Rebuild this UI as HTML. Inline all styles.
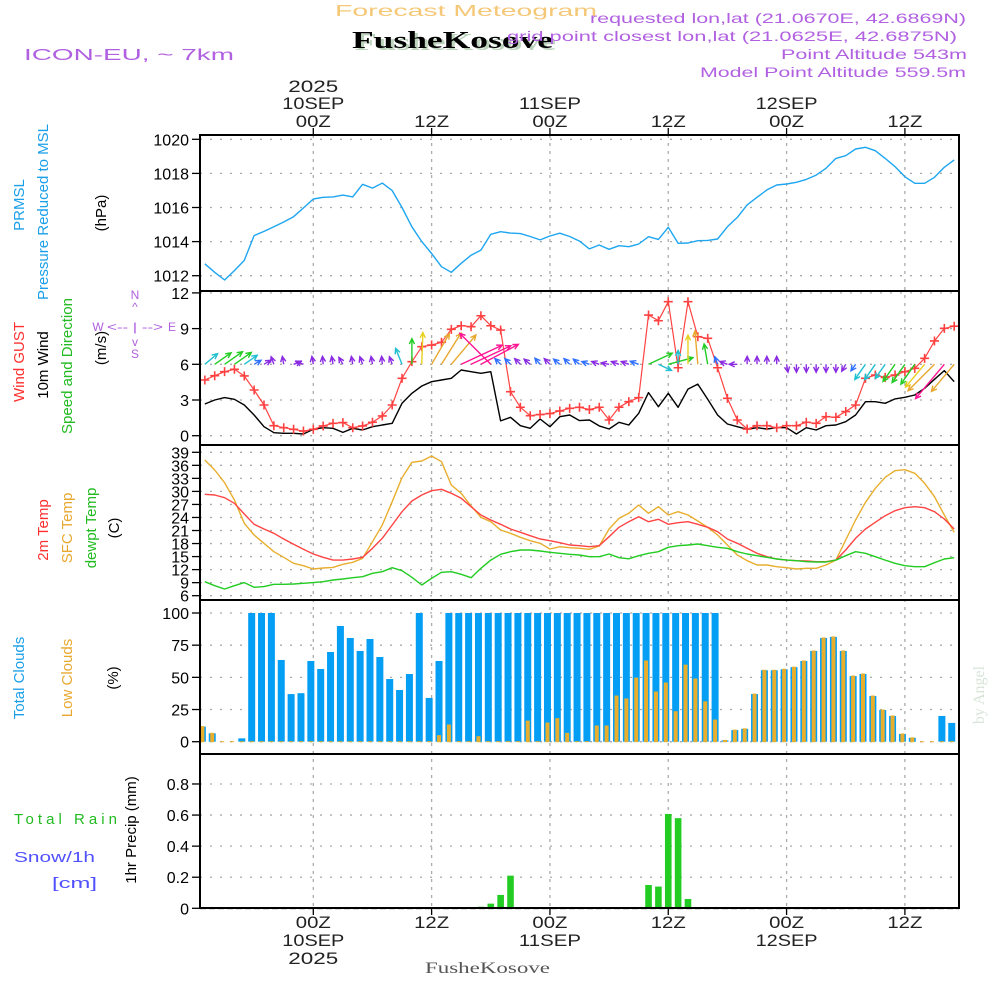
<!DOCTYPE html>
<html><head><meta charset="utf-8">
<style>
body{margin:0;background:#fff;}
svg{display:block;font-family:"Liberation Sans",sans-serif;}
</style></head>
<body>
<svg id="chart" width="1000" height="1000" viewBox="0 0 1000 1000" xmlns="http://www.w3.org/2000/svg">
<defs><clipPath id="plotclip"><rect x="200" y="135" width="759" height="775"/></clipPath></defs>
<rect width="1000" height="1000" fill="#fff"/>
<g>
<text x="335" y="16" textLength="262" lengthAdjust="spacingAndGlyphs" font-size="16" fill="#f5c878">Forecast Meteogram</text>
<text x="355" y="50" textLength="201" lengthAdjust="spacingAndGlyphs" font-family="Liberation Serif,serif" font-weight="bold" font-size="24" fill="#bcd3bc">FusheKosove</text>
<text x="352" y="48" textLength="201" lengthAdjust="spacingAndGlyphs" font-family="Liberation Serif,serif" font-weight="bold" font-size="24" fill="#000">FusheKosove</text>
<text x="590" y="23" textLength="376" lengthAdjust="spacingAndGlyphs" font-size="14" fill="#b060e0">requested lon,lat (21.0670E, 42.6869N)</text>
<text x="507" y="41" textLength="450" lengthAdjust="spacingAndGlyphs" font-size="14" fill="#b060e0">grid point closest lon,lat (21.0625E, 42.6875N)</text>
<text x="781" y="59" textLength="186" lengthAdjust="spacingAndGlyphs" font-size="14" fill="#b060e0">Point Altitude 543m</text>
<text x="700" y="77" textLength="266" lengthAdjust="spacingAndGlyphs" font-size="14" fill="#b060e0">Model Point Altitude 559.5m</text>
<text x="24" y="60" textLength="210" lengthAdjust="spacingAndGlyphs" font-size="16" fill="#b060e0">ICON-EU, ~ 7km</text>
<text x="425" y="973" textLength="125" lengthAdjust="spacingAndGlyphs" font-family="Liberation Serif,serif" font-size="16" fill="#555">FusheKosove</text>
<text transform="translate(984,695) rotate(-90)" text-anchor="middle" font-family="Liberation Serif,serif" font-size="16" fill="#d8e4d8">by Angel</text>
</g>
<g font-size="15">
<text transform="translate(24,205) rotate(-90)" text-anchor="middle" fill="#1a9fe8">PRMSL</text>
<text transform="translate(48,212) rotate(-90)" text-anchor="middle" fill="#1a9fe8">Pressure Reduced to MSL</text>
<text transform="translate(106,213) rotate(-90)" text-anchor="middle" fill="#000">(hPa)</text>
<text transform="translate(24,362) rotate(-90)" text-anchor="middle" fill="#ff3030">Wind GUST</text>
<text transform="translate(48,365) rotate(-90)" text-anchor="middle" fill="#000">10m Wind</text>
<text transform="translate(72,366) rotate(-90)" text-anchor="middle" fill="#22bb22">Speed and Direction</text>
<text transform="translate(106,348) rotate(-90)" text-anchor="middle" fill="#000">(m/s)</text>
<text transform="translate(48,530) rotate(-90)" text-anchor="middle" fill="#ff3030">2m Temp</text>
<text transform="translate(72,528) rotate(-90)" text-anchor="middle" fill="#e8a830">SFC Temp</text>
<text transform="translate(96,528) rotate(-90)" text-anchor="middle" fill="#22bb22">dewpt Temp</text>
<text transform="translate(119,528) rotate(-90)" text-anchor="middle" fill="#000">(C)</text>
<text transform="translate(24,678) rotate(-90)" text-anchor="middle" fill="#1a9fe8">Total Clouds</text>
<text transform="translate(72,678) rotate(-90)" text-anchor="middle" fill="#e8a830">Low Clouds</text>
<text transform="translate(118,678) rotate(-90)" text-anchor="middle" fill="#000">(%)</text>
<text transform="translate(136,830) rotate(-90)" text-anchor="middle" fill="#000">1hr Precip (mm)</text>
<text x="14" y="824" textLength="103" lengthAdjust="spacing" fill="#22bb22">Total   Rain</text>
<text x="14" y="862" textLength="81" lengthAdjust="spacingAndGlyphs" fill="#5050ff">Snow/1h</text>
<text x="52" y="888" textLength="45" lengthAdjust="spacingAndGlyphs" fill="#5050ff">[cm]</text>
</g>
<g fill="#b060e0" font-size="12" stroke="none">
<text x="135" y="299" text-anchor="middle">N</text>
<text x="135" y="311" text-anchor="middle">^</text>
<text x="135" y="331" text-anchor="middle" textLength="56" lengthAdjust="spacingAndGlyphs">&lt;-- | --&gt;</text>
<text x="98" y="331" text-anchor="middle">W</text>
<text x="172" y="331" text-anchor="middle">E</text>
<text x="135" y="346" text-anchor="middle">v</text>
<text x="135" y="358" text-anchor="middle">S</text>
</g>
<g id="grid"></g>
<g id="marks" clip-path="url(#plotclip)"></g>
<g id="frames"></g>
<g id="axes"></g>
</svg>
<script>
const hours = [];
for (let h = -11; h <= 65; h++) hours.push(h);
const pressure = [1012.7,1012.2,1011.75,1012.3,1012.9,1014.35,1014.6,1014.87,1015.15,1015.46,1015.97,1016.5,1016.6,1016.62,1016.73,1016.62,1017.36,1017.14,1017.43,1016.99,1016.0,1014.87,1014.0,1013.3,1012.53,1012.2,1012.73,1013.2,1013.5,1014.43,1014.58,1014.5,1014.47,1014.3,1014.1,1014.33,1014.49,1014.3,1014.03,1013.57,1013.8,1013.55,1013.76,1013.7,1013.86,1014.29,1014.13,1014.84,1013.9,1013.92,1014.05,1014.07,1014.15,1014.87,1015.42,1016.15,1016.6,1017.03,1017.32,1017.38,1017.48,1017.65,1017.9,1018.3,1018.88,1019.04,1019.43,1019.53,1019.33,1018.88,1018.4,1017.8,1017.42,1017.42,1017.77,1018.36,1018.79];
const gust = [4.68,5.04,5.38,5.58,5.02,3.84,2.58,0.84,0.67,0.54,0.39,0.54,0.82,1.04,1.1,0.67,0.82,1.13,1.66,2.58,4.82,6.22,7.48,7.62,7.85,8.94,9.24,9.16,10.08,9.24,8.88,3.7,2.39,1.68,1.78,1.86,2.08,2.3,2.39,2.2,2.39,1.32,2.39,2.86,3.2,10.14,9.66,11.26,5.71,11.26,8.32,8.18,5.71,3.14,1.32,0.56,0.84,0.84,0.67,0.84,0.84,1.13,1.04,1.6,1.55,2.03,2.58,4.82,5.1,4.9,5.1,5.38,5.66,6.5,7.96,9.02,9.2];
const wind = [2.66,3.0,3.2,3.06,2.58,1.74,0.76,0.25,0.2,0.2,0.14,0.54,0.67,0.62,0.28,0.62,0.48,0.76,0.9,1.04,2.72,3.56,4.18,4.54,4.68,4.82,5.52,5.38,5.24,5.38,1.24,1.55,0.84,0.62,1.4,0.76,1.6,1.74,1.27,1.32,0.82,0.56,1.13,0.9,1.88,3.62,2.44,3.56,2.39,3.92,4.34,3.06,1.74,0.98,0.76,0.54,0.67,0.56,0.67,0.67,0.14,0.67,0.48,0.84,0.9,1.18,1.74,2.86,2.86,2.72,3.09,3.23,3.42,3.98,4.74,5.47,4.54];
const windDir = [40,35,35,35,35,30,30,110,100,20,160,100,95,100,120,100,110,100,95,110,112,90,88,60,58,50,25,25,28,135,135,135,135,140,130,135,140,135,140,160,160,170,160,160,160,25,-25,15,90,90,95,100,110,160,180,90,90,90,90,-80,-90,-90,-90,-90,-90,-120,235,235,235,235,235,235,235,230,225,230,230];
const temp2m = [29.33,29.17,28.55,27.26,24.8,22.43,21.35,20.36,19.05,17.83,16.68,15.6,14.83,14.2,14.2,14.44,14.83,16.9,19.2,22.27,25.33,27.8,29.17,30.17,30.48,29.56,28.41,26.48,24.57,23.42,22.43,21.35,20.59,19.81,19.05,18.66,18.2,17.67,17.5,17.27,17.5,19.58,21.74,23.03,24.18,23.03,23.58,22.43,22.8,23.03,22.43,21.74,20.73,19.05,18.06,16.9,15.75,14.97,14.44,14.2,14.05,14.0,13.82,13.82,14.2,16.52,19.2,21.35,22.9,24.41,25.56,26.25,26.48,26.25,25.33,23.65,21.35];
const sfcTemp = [37.23,34.93,32.0,28.02,22.66,19.97,18.06,16.13,14.83,13.45,12.9,12.14,12.37,12.5,13.22,13.68,14.6,18.43,22.27,27.63,33.16,36.7,37.0,38.15,36.84,31.47,29.56,26.64,24.04,23.03,21.12,20.36,19.44,18.66,18.06,16.75,17.27,17.04,16.9,16.67,17.43,21.35,23.8,24.96,26.87,24.96,26.48,24.57,25.33,24.57,23.19,21.74,19.97,17.67,15.37,14.05,13.06,13.06,12.67,12.45,12.14,12.3,12.3,13.06,14.2,18.82,23.42,27.5,30.71,33.24,34.77,35.0,34.17,31.87,28.78,24.57,20.59];
const dewpt = [9.22,8.3,7.54,8.3,9.0,7.93,8.1,8.62,8.62,8.7,8.85,9.0,9.22,9.61,9.84,10.14,10.37,11.15,11.52,12.45,11.75,10.23,8.46,10.0,11.38,11.52,10.92,10.14,12.3,14.2,15.52,16.13,16.52,16.52,16.28,15.98,15.75,15.52,15.37,14.97,14.97,15.6,14.74,14.5,15.2,15.75,16.13,17.13,17.5,17.67,17.9,17.5,17.13,16.9,16.13,15.6,15.2,14.83,14.44,14.2,14.05,13.82,13.75,13.75,14.2,15.2,16.13,15.75,14.97,14.2,13.45,12.9,12.67,12.67,13.6,14.44,14.74];
const totalClouds = [11.7,6.5,0,0,2.6,100,100,100,63.5,37,37.7,62.7,56.5,69.7,89.9,80.6,70.5,79.8,65.8,48.7,40.2,52.6,100,34,62.7,100,100,100,100,100,100,100,100,100,100,100,100,100,100,100,100,100,100,100,100,100,100,100,100,100,100,100,100,1,9,10,37,55.5,55.5,56.3,57.9,62.7,70.5,80.6,81.4,70.5,51,52.6,35.5,24.6,20,6,3,0,0,20,14.6];
const lowClouds = [11.7,6.5,0,0,0,0,0,0,0,0,0,0,0,0,0,0,0,0,0,0,0,0,0,0,4.7,13,0,0,3.9,0,0,0,0,16,0,14.5,17.9,6.5,0,0,12.2,12.2,35.5,33.2,49.4,62.7,38.6,45.6,23.3,59.5,48.7,31,16.8,1,9,10,37,55.5,55.5,56.3,57.9,62.7,70.5,80.6,81.4,70.5,51,52.6,35.5,24.6,20,6,3,0,0,0,0];
const precip = [0,0,0,0,0,0,0,0,0,0,0,0,0,0,0,0,0,0,0,0,0,0,0,0,0,0,0,0,0.01,0.03,0.086,0.21,0,0,0,0,0,0,0,0,0,0,0,0,0,0.15,0.14,0.607,0.58,0.06,0.003,0,0,0,0,0,0,0,0,0,0,0,0,0,0,0,0,0,0,0,0,0,0,0,0,0,0];
const pressureTicks = [1012,1014,1016,1018,1020];
const windTicks = [0,3,6,9,12];
const tempTicks = [6,9,12,15,18,21,24,27,30,33,36,39];
const cloudTicks = [0,25,50,75,100];
const precipTicks = [0,0.2,0.4,0.6,0.8];
const precipTickLabels = ['0','0.2','0.4','0.6','0.8'];
const timeTicks = [0,12,24,36,48,60];
const timeLabels = ['00Z','12Z','00Z','12Z','00Z','12Z'];
const dayLabels = ['10SEP','','11SEP','','12SEP',''];

const NS='http://www.w3.org/2000/svg';
const X0=200,X1=959;
const x = h => 313.3 + h*9.86;
const yP = p => 139.3 + (1020-p)*17.05;
const yW = v => 435.7 - v*11.9;
const yT = t => 452.3 + (39-t)*4.345;
const yC = c => 741.7 - c*1.287;
const yR = r => 908.3 - r*155.4;
const panels = [[135,291],[291,445],[445,600],[600,754],[754,908]];
function el(tag, attrs, parent){const e=document.createElementNS(NS,tag);for(const k in attrs)e.setAttribute(k,attrs[k]);parent.appendChild(e);return e;}
const grid=document.getElementById('grid'), marks=document.getElementById('marks'), frames=document.getElementById('frames'), axes=document.getElementById('axes');

function hgrid(ticks, yf, labels, name){
  ticks.forEach((t,i)=>{
    const y=yf(t);
    const g=el('line',{x1:X0,x2:X1,y1:y,y2:y,stroke:'#aaa','stroke-width':1.3,'stroke-dasharray':'2 8'},grid);
    
    
    const tk=el('line',{x1:192,x2:X0,y1:y,y2:y,stroke:'#000','stroke-width':1.3},axes);
    
    
    const tx=el('text',{x:189,y:y+6,'text-anchor':'end','font-size':16,fill:'#000'},axes);
    
    
    tx.textContent = labels ? labels[i] : String(t);
  });
}
hgrid(pressureTicks,yP,null,'pressure');
hgrid(windTicks,yW,null,'wind');
hgrid(tempTicks,yT,null,'temp');
hgrid(cloudTicks,yC,null,'cloud');
hgrid(precipTicks,yR,precipTickLabels,'precip');

function tlabel(txt, xx, y, w, name){
  const t=el('text',{x:xx-w/2,y:y,'font-size':17,fill:'#222',textLength:w,lengthAdjust:'spacingAndGlyphs'},axes);
  
  
  t.textContent=txt;
}
timeTicks.forEach((h,i)=>{
  const xx=x(h);
  const v=el('line',{x1:xx,x2:xx,y1:135,y2:908,stroke:'#aaa','stroke-width':1.3,'stroke-dasharray':'3 5'},grid);
  
  
  [[128,135],[908,915]].forEach(([a,b])=>{
    const t=el('line',{x1:xx,x2:xx,y1:a,y2:b,stroke:'#000','stroke-width':1.3},axes);
    
    
  });
  tlabel(timeLabels[i], xx, 127, 35, 'top-time-label');
  tlabel(timeLabels[i], xx, 928, 35, 'bottom-time-label');
  if(dayLabels[i]){
    tlabel(dayLabels[i], xx, 109, 62, 'top-day-label');
    tlabel(dayLabels[i], xx, 946, 62, 'bottom-day-label');
  }
  if(i===0){
    tlabel('2025', xx, 92, 50, 'top-year-label');
    tlabel('2025', xx, 964, 50, 'bottom-year-label');
  }
});
const zl=el('line',{x1:X0,x2:X1,y1:yR(0),y2:yR(0),stroke:'#000','stroke-width':1.6,'stroke-dasharray':'6 3'},marks);



hours.forEach((h,i)=>{
  const cx=x(h-0.25);
  if(totalClouds[i]>0){
    const r=el('rect',{x:cx-3.5,y:yC(totalClouds[i]),width:7,height:yC(0)-yC(totalClouds[i]),fill:'#049ff5'},marks);
    
    
  }
  const lo=el('rect',{x:cx-2,y:yC(lowClouds[i])-0.5,width:4,height:yC(0)-yC(lowClouds[i])+1,fill:'#e8ae2e'},marks);
  
  
  if(precip[i]>0){
    const p=el('rect',{x:x(h)-3.3,y:yR(precip[i]),width:6.6,height:yR(0)-yR(precip[i]),fill:'#22cc22'},marks);
    
    
  }
});

function line(vals, yf, color, name, w){
  const pts=vals.map((v,i)=>x(hours[i]).toFixed(1)+','+yf(v).toFixed(1)).join(' ');
  const pl=el('polyline',{points:pts,fill:'none',stroke:color,'stroke-width':w||1.4,'stroke-linejoin':'round'},marks);
  
  
}
line(pressure,yP,'#1ea6f0','pressure-line');
line(sfcTemp,yT,'#e8ae2e','sfc-temp-line');
line(temp2m,yT,'#ff4444','temp-2m-line');
line(dewpt,yT,'#22cc22','dewpt-line');
line(wind,yW,'#000','wind-10m-line');
line(gust,yW,'#ff4444','gust-line',1.2);
gust.forEach((g,i)=>{
  const cx=x(hours[i]),cy=yW(g);
  const m=el('path',{d:`M${cx-4.5},${cy}H${cx+4.5}M${cx},${cy-4.5}V${cy+4.5}`,stroke:'#ff4040','stroke-width':1.6},marks);
  
  
});
function windColor(s){
  if(s<1.2)return '#8a2be2';
  if(s<2)return '#3070ff';
  if(s<2.9)return '#20c0d0';
  if(s<3.7)return '#22cc22';
  if(s<4.2)return '#e8d020';
  if(s<5.2)return '#e8a830';
  return '#ff1493';
}
wind.forEach((s,i)=>{
  const bx=x(hours[i]),by=yW(6);
  const L=Math.max(8,10*(s-1));
  const a=windDir[i]*Math.PI/180;
  const dx=Math.cos(a)*L,dy=-Math.sin(a)*L;
  const tx=bx+dx,ty=by+dy;
  const hl=6,b=Math.atan2(-dy,-dx);
  const h1x=tx+hl*Math.cos(b+0.45),h1y=ty+hl*Math.sin(b+0.45);
  const h2x=tx+hl*Math.cos(b-0.45),h2y=ty+hl*Math.sin(b-0.45);
  const p=el('path',{d:`M${bx},${by}L${tx},${ty}M${h1x},${h1y}L${tx},${ty}L${h2x},${h2y}`,stroke:windColor(s),'stroke-width':1.4,fill:'none'},marks);
  
  
});
panels.forEach(([a,b])=>{
  const r=el('rect',{x:X0,y:a,width:X1-X0,height:b-a,fill:'none',stroke:'#000','stroke-width':2},frames);
  
  
});
</script>
</body></html>
